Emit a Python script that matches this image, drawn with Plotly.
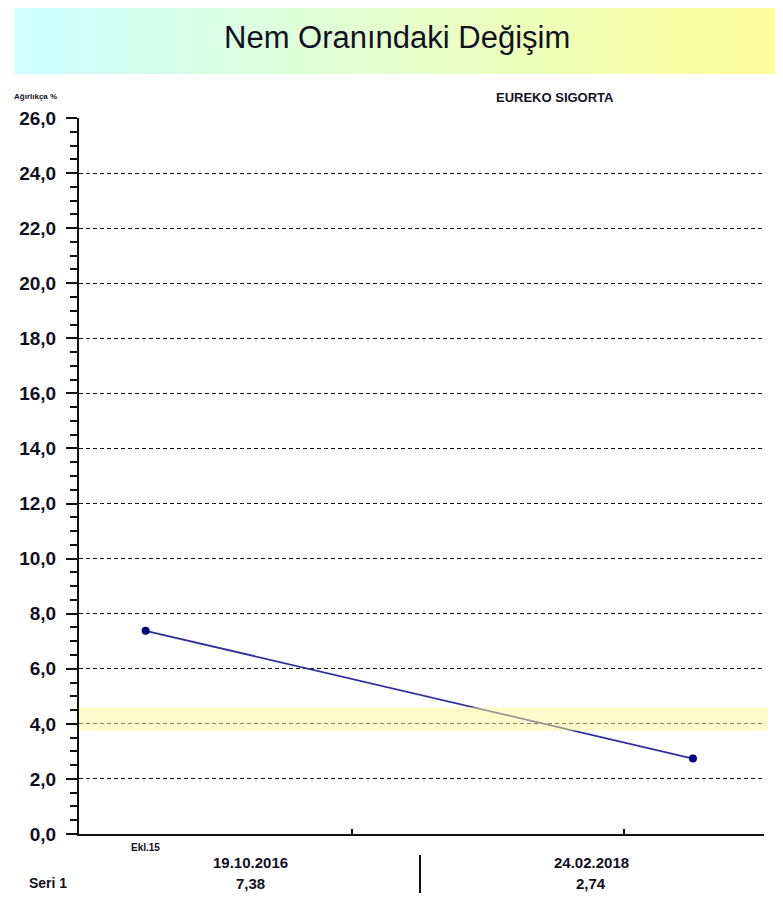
import plotly.graph_objects as go

# ---- data ----
dates = ["2016-10-19", "2018-02-24"]
date_labels = ["19.10.2016", "24.02.2018"]
values = [7.38, 2.74]
series_name = "Seri 1"
title_text = "Nem Oranındaki Değişim"
y_title = "Ağırlıkça %"
company = "EUREKO SIGORTA"
figure_label = "Ekl.15"
band_low, band_high = 3.75, 4.6
y_ticks = [0, 2, 4, 6, 8, 10, 12, 14, 16, 18, 20, 22, 24, 26]
x_range = ["2016-08-20", "2018-04-29"]
x_tick_dates = ["2017-04-23", "2017-12-24"]

OFF = 8  # page body margin
W, H = 783 - OFF, 909 - OFF
# plot area in reference (page) pixels
AX_L, AX_R, AX_T, AX_B = 79, 764, 118, 834
L, R, T, B = AX_L - OFF, 783 - AX_R, AX_T - OFF, 909 - AX_B
PW, PH = AX_R - AX_L, AX_B - AX_T


def px(x):
    return (x - AX_L) / PW


def py(y):
    return (AX_B - y) / PH


FONT = "Liberation Sans, Arial, sans-serif"
TXT = "#111122"

fig = go.Figure()
fig.add_trace(go.Scatter(
    x=dates, y=values, mode="lines+markers", name=series_name,
    line=dict(color="#2e2e9e", width=1.8),
    marker=dict(color="#000080", size=8),
    showlegend=False, hoverinfo="skip",
))

shapes = []
# gradient banner
x0b, x1b = 15, 783
n = 96
c0 = (204, 255, 255)
c1 = (255, 255, 153)
for i in range(n):
    t = (i + 0.5) / n
    col = tuple(round(c0[k] + (c1[k] - c0[k]) * t) for k in range(3))
    xa = x0b + (x1b - x0b) * i / n
    xb = x0b + (x1b - x0b) * (i + 1) / n + 0.6
    shapes.append(dict(type="rect", xref="paper", yref="paper",
                       x0=px(xa), x1=px(xb), y0=py(74), y1=py(0),
                       line=dict(width=0), fillcolor="rgb(%d,%d,%d)" % col,
                       layer="below"))
# tolerance band
shapes.append(dict(type="rect", xref="paper", yref="y",
                   x0=0, x1=px(768), y0=band_low, y1=band_high,
                   line=dict(width=0), fillcolor="rgba(250,250,150,0.5)",
                   layer="above"))
# table divider
shapes.append(dict(type="line", xref="paper", yref="paper",
                   x0=px(420), x1=px(420), y0=py(855), y1=py(893),
                   line=dict(color="#111", width=2)))

annotations = [
    dict(text=title_text, x=px(397), y=py(37), font=dict(size=31, color=TXT, family=FONT)),
    dict(text="<b>%s</b>" % y_title, x=px(12), y=py(97), xanchor="left",
         font=dict(size=8, color=TXT, family=FONT)),
    dict(text="<b>%s</b>" % company, x=px(555), y=py(98),
         font=dict(size=13, color=TXT, family=FONT)),
    dict(text="<b>%s</b>" % figure_label, x=px(145), y=py(847),
         font=dict(size=10, color=TXT, family=FONT)),
    dict(text="<b>%s</b>" % series_name, x=px(27), y=py(883), xanchor="left",
         font=dict(size=14, color=TXT, family=FONT)),
]
col_centers = [250, 591]
for cx, dl, v in zip(col_centers, date_labels, values):
    annotations.append(dict(text="<b>%s</b>" % dl, x=px(cx), y=py(863),
                            font=dict(size=15, color=TXT, family=FONT)))
    annotations.append(dict(text="<b>%s</b>" % ("%.2f" % v).replace(".", ","),
                            x=px(cx), y=py(883),
                            font=dict(size=15, color=TXT, family=FONT)))
for a in annotations:
    a.setdefault("xref", "paper")
    a.setdefault("yref", "paper")
    a.setdefault("showarrow", False)
    a.setdefault("xanchor", "center")
    a.setdefault("yanchor", "middle")

fig.update_layout(
    width=W, height=H,
    margin=dict(l=L, r=R, t=T, b=B, pad=0),
    paper_bgcolor="white", plot_bgcolor="white",
    separators=",.",
    shapes=shapes, annotations=annotations,
    xaxis=dict(type="date", range=x_range, tickvals=x_tick_dates,
               showticklabels=False, ticks="inside", ticklen=5, tickwidth=1.5,
               tickcolor="#111", showgrid=False, zeroline=False,
               showline=True, linecolor="#111", linewidth=2, fixedrange=True),
    yaxis=dict(range=[0, 26], tickvals=y_ticks, tickformat=".1f",
               ticks="outside", ticklen=11, tickwidth=1.5, tickcolor="#111",
               ticklabelstandoff=6,
               minor=dict(dtick=0.5, ticks="outside", ticklen=7, tickwidth=1.5,
                          tickcolor="#111", showgrid=False),
               tickfont=dict(size=19, color=TXT, family=FONT, weight="bold"),
               showgrid=True, gridcolor="#111", gridwidth=1.3, griddash="4px,3px",
               zeroline=False,
               showline=True, linecolor="#111", linewidth=2, fixedrange=True),
)

fig.write_html("out.html")
